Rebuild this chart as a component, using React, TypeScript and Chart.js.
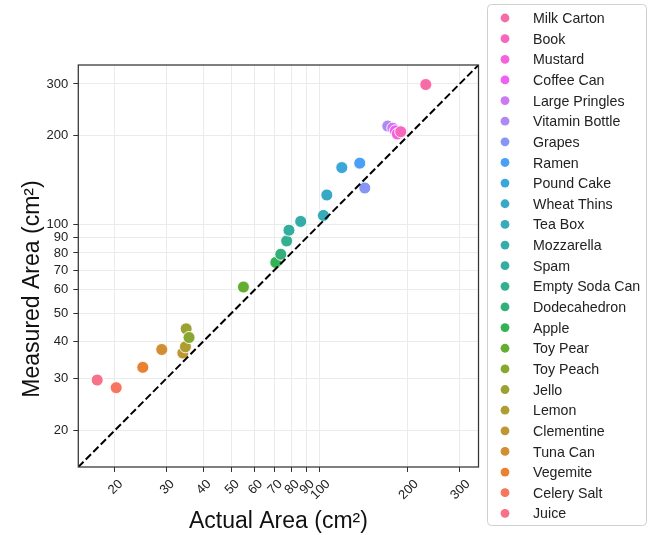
import { useEffect, useRef } from "react";
import { Chart, registerables } from "chart.js";

Chart.register(...registerables);

// ---- data (legend order) ----
const ITEMS = [
  "Milk Carton", "Book", "Mustard", "Coffee Can", "Large Pringles", "Vitamin Bottle",
  "Grapes", "Ramen", "Pound Cake", "Wheat Thins", "Tea Box", "Mozzarella", "Spam",
  "Empty Soda Can", "Dodecahedron", "Apple", "Toy Pear", "Toy Peach", "Jello", "Lemon",
  "Clementine", "Tuna Can", "Vegemite", "Celery Salt", "Juice",
];
const ACTUAL = [
  230, 188.9, 183.9, 181, 177.4, 170.6,
  142.4, 136.9, 118.9, 105.7, 102.9, 86.1, 78.5,
  77.1, 73.6, 70.8, 54.9, 35.8, 35.0, 34.8,
  34.1, 28.9, 24.9, 20.2, 17.4,
];
const MEASURED = [
  298.7, 206.5, 203, 208, 212.4, 215.8,
  133, 161.5, 156, 125.9, 107.3, 102.4, 95.6,
  87.9, 79.2, 74.3, 61.3, 41.3, 44.2, 38.4,
  36.6, 37.6, 32.7, 27.9, 29.6,
];
const X_TICKS = [20, 30, 40, 50, 60, 70, 80, 90, 100, 200, 300];
const Y_TICKS = [20, 30, 40, 50, 60, 70, 80, 90, 100, 200, 300];
const AXIS_MIN = 15;
const AXIS_MAX = 348;
const X_TITLE = "Actual Area (cm²)";
const Y_TITLE = "Measured Area (cm²)";

const FONT = "'Liberation Sans', Arial, Helvetica, sans-serif";

// ---- HUSL palette (seaborn style) ----
const M = [
  [3.2406, -1.5372, -0.4986],
  [-0.9689, 1.8758, 0.0415],
  [0.0557, -0.204, 1.057],
];
const REF_U = 0.19784;
const REF_V = 0.46834;
const LAB_E = 0.008856;
const LAB_K = 903.3;

function maxChroma(L: number, H: number) {
  const hrad = (H / 360) * 2 * Math.PI;
  const sinH = Math.sin(hrad);
  const cosH = Math.cos(hrad);
  const sub1 = Math.pow(L + 16, 3) / 1560896;
  const sub2 = sub1 > LAB_E ? sub1 : L / LAB_K;
  let result = Infinity;
  for (const [m1, m2, m3] of M) {
    const top = (0.99915 * m1 + 1.05122 * m2 + 1.1446 * m3) * sub2;
    const rbottom = 0.8633 * m3 - 0.17266 * m2;
    const lbottom = 0.12949 * m3 - 0.38848 * m1;
    const bottom = (rbottom * sinH + lbottom * cosH) * sub2;
    for (const t of [0, 1]) {
      const C = (L * (top - 1.05122 * t)) / (bottom + 0.17266 * sinH * t);
      if (C > 0 && C < result) result = C;
    }
  }
  return result;
}

function huslToHex(H: number, S: number, L: number) {
  const C = (maxChroma(L, H) / 100) * S;
  const hrad = (H / 180) * Math.PI;
  const U = Math.cos(hrad) * C;
  const V = Math.sin(hrad) * C;
  const t = (L + 16) / 116;
  const Y = t * t * t > LAB_E ? t * t * t : (116 * t - 16) / LAB_K;
  const varU = U / (13 * L) + REF_U;
  const varV = V / (13 * L) + REF_V;
  const X = -(9 * Y * varU) / ((varU - 4) * varV - varU * varV);
  const Z = (9 * Y - 15 * varV * Y - varV * X) / (3 * varV);
  const rgb = M.map((r) => {
    let c = r[0] * X + r[1] * Y + r[2] * Z;
    c = c <= 0.0031308 ? 12.92 * c : 1.055 * Math.pow(c, 1 / 2.4) - 0.055;
    return Math.round(Math.min(1, Math.max(0, c)) * 255);
  });
  return "#" + rgb.map((v) => v.toString(16).padStart(2, "0")).join("");
}

function huslPalette(n: number, h = 0.01, s = 0.9, l = 0.65) {
  const out: string[] = [];
  for (let i = 0; i < n; i++) {
    const hue = ((i / n + h) % 1) * 359;
    out.push(huslToHex(hue, s * 99, l * 99));
  }
  return out;
}

export default function App() {
  const ref = useRef<HTMLCanvasElement>(null);

  useEffect(() => {
    const canvas = ref.current;
    if (!canvas) return;
    const n = ITEMS.length;
    const palette = huslPalette(n);
    const colors = ITEMS.map((_, i) => palette[n - 1 - i]);

    const datasets: any[] = ITEMS.map((name, i) => ({
      type: "scatter",
      label: name,
      data: [{ x: ACTUAL[i], y: MEASURED[i] }],
      backgroundColor: colors[i],
      borderColor: "#ffffff",
      borderWidth: 0.9,
      pointRadius: 6,
      pointHoverRadius: 6,
      order: 1,
    }));
    datasets.push({
      type: "line",
      label: "identity",
      data: [
        { x: AXIS_MIN, y: AXIS_MIN },
        { x: AXIS_MAX, y: AXIS_MAX },
      ],
      borderColor: "#000000",
      borderWidth: 2,
      borderDash: [7.4, 3.2],
      pointRadius: 0,
      fill: false,
      order: 0,
    });

    const framePlugin = {
      id: "frameAndLabels",
      afterDatasetsDraw(chart: any) {
        const { ctx, chartArea } = chart;
        ctx.save();
        ctx.strokeStyle = "#333333";
        ctx.lineWidth = 1.25;
        ctx.strokeRect(
          chartArea.left,
          chartArea.top,
          chartArea.right - chartArea.left,
          chartArea.bottom - chartArea.top
        );
        ctx.restore();
      },
      afterDraw(chart: any) {
        const { ctx, chartArea } = chart;
        const xs = chart.scales.x;
        // rotated x tick labels centred under their ticks
        ctx.save();
        ctx.font = `13px ${FONT}`;
        ctx.fillStyle = "#222222";
        const capH = 13 * 0.716;
        for (const v of X_TICKS) {
          const px = xs.getPixelForValue(v);
          const txt = String(v);
          const w = ctx.measureText(txt).width;
          const half = ((w + capH) * Math.SQRT1_2) / 2;
          const cy = chartArea.bottom + 11 + half;
          ctx.save();
          ctx.translate(px, cy);
          ctx.rotate(-Math.PI / 4);
          ctx.textAlign = "center";
          ctx.textBaseline = "alphabetic";
          ctx.fillText(txt, 0, capH / 2);
          ctx.restore();
        }
        ctx.restore();

        // y axis title
        ctx.save();
        ctx.font = `23px ${FONT}`;
        ctx.fillStyle = "#111111";
        ctx.translate(38.5, 289);
        ctx.rotate(-Math.PI / 2);
        ctx.textAlign = "center";
        ctx.textBaseline = "alphabetic";
        ctx.fillText(Y_TITLE, 0, 0);
        ctx.restore();

        // legend
        ctx.save();
        const bx = 487.5, by = 4.5, bw = 159, bh = 521, r = 4;
        ctx.beginPath();
        ctx.moveTo(bx + r, by);
        ctx.lineTo(bx + bw - r, by);
        ctx.quadraticCurveTo(bx + bw, by, bx + bw, by + r);
        ctx.lineTo(bx + bw, by + bh - r);
        ctx.quadraticCurveTo(bx + bw, by + bh, bx + bw - r, by + bh);
        ctx.lineTo(bx + r, by + bh);
        ctx.quadraticCurveTo(bx, by + bh, bx, by + bh - r);
        ctx.lineTo(bx, by + r);
        ctx.quadraticCurveTo(bx, by, bx + r, by);
        ctx.closePath();
        ctx.fillStyle = "rgba(255,255,255,0.8)";
        ctx.fill();
        ctx.strokeStyle = "#d0d0d0";
        ctx.lineWidth = 1;
        ctx.stroke();

        ctx.font = `14.2px ${FONT}`;
        ctx.textAlign = "left";
        ctx.textBaseline = "alphabetic";
        const lcap = 14.2 * 0.716;
        ITEMS.forEach((name, i) => {
          const y = 18 + i * 20.64;
          ctx.beginPath();
          ctx.arc(505, y, 4.4, 0, Math.PI * 2);
          ctx.fillStyle = colors[i];
          ctx.fill();
          ctx.fillStyle = "#222222";
          ctx.fillText(name, 533, y + lcap / 2);
        });
        ctx.restore();
      },
    };

    const chart = new Chart(canvas, {
      type: "scatter",
      data: { datasets },
      plugins: [framePlugin],
      options: {
        responsive: false,
        animation: false,
        events: [],
        layout: { padding: { top: 65, right: 178.5, bottom: 0, left: 0 } },
        plugins: {
          legend: { display: false },
          tooltip: { enabled: false },
        },
        scales: {
          x: {
            type: "logarithmic",
            position: "bottom",
            min: AXIS_MIN,
            max: AXIS_MAX,
            afterBuildTicks: (scale: any) => {
              scale.ticks = X_TICKS.map((v) => ({ value: v }));
            },
            afterFit: (scale: any) => {
              scale.height = 68;
            },
            ticks: { display: false },
            grid: {
              color: "#ebebeb",
              lineWidth: 1,
              drawTicks: true,
              tickLength: 5,
              tickColor: "#333333",
              tickWidth: 1,
            },
            border: { display: false },
            title: {
              display: true,
              text: X_TITLE,
              color: "#111111",
              font: { family: FONT, size: 23 },
              padding: { top: 0, bottom: 0 },
            },
          },
          y: {
            type: "logarithmic",
            position: "left",
            min: AXIS_MIN,
            max: AXIS_MAX,
            afterBuildTicks: (scale: any) => {
              scale.ticks = Y_TICKS.map((v) => ({ value: v }));
            },
            afterFit: (scale: any) => {
              scale.width = 78.3;
            },
            ticks: {
              callback: (v: any) => String(v),
              color: "#222222",
              font: { family: FONT, size: 13 },
              padding: 5,
              autoSkip: false,
            },
            grid: {
              color: "#ebebeb",
              lineWidth: 1,
              drawTicks: true,
              tickLength: 5,
              tickColor: "#333333",
              tickWidth: 1,
            },
            border: { display: false },
            title: { display: false },
          },
        },
      },
    } as any);

    return () => chart.destroy();
  }, []);

  return (
    <div style={{ position: "fixed", left: 0, top: 0, width: 657, height: 535, background: "#fff" }}>
      <canvas ref={ref} width={657} height={535} style={{ display: "block" }} />
    </div>
  );
}
